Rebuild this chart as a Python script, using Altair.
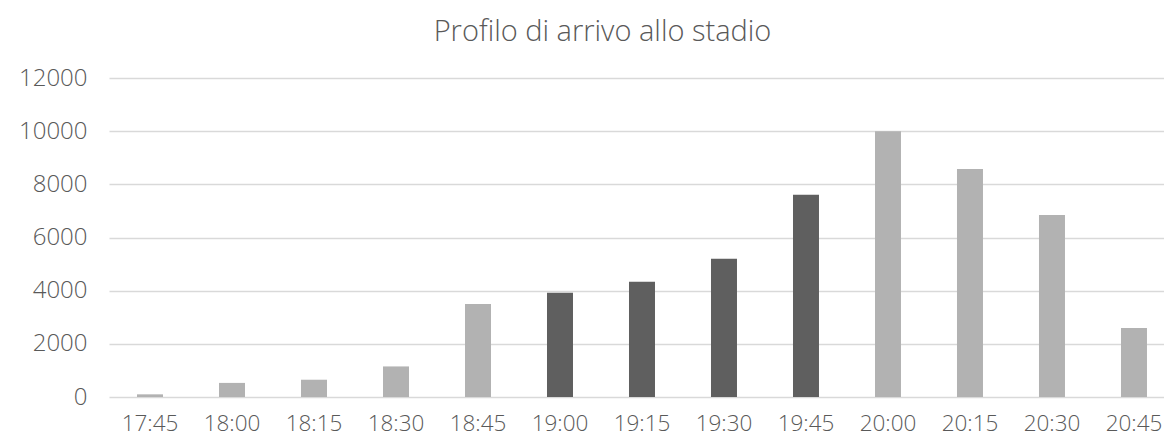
import altair as alt
import pandas as pd

times = ["17:45", "18:00", "18:15", "18:30", "18:45", "19:00", "19:15",
         "19:30", "19:45", "20:00", "20:15", "20:30", "20:45"]
arrivals = [100, 530, 650, 1150, 3500, 3920, 4340, 5200, 7610, 10000, 8580, 6850, 2600]
groups = ["chiaro", "chiaro", "chiaro", "chiaro", "chiaro", "scuro", "scuro",
          "scuro", "scuro", "chiaro", "chiaro", "chiaro", "chiaro"]

df = pd.DataFrame({"orario": times, "arrivi": arrivals, "gruppo": groups})

FONT = "Open Sans"
TXT = "#595959"

chart = alt.Chart(df).mark_bar().encode(
    x=alt.X("orario:N", sort=times, title=None,
            scale=alt.Scale(paddingInner=0.683, paddingOuter=0.2745, align=0.622,
                            round=False),
            axis=alt.Axis(labelAngle=0, labelFont=FONT, labelFontSize=22.5,
                          labelColor=TXT, labelFontWeight=300, ticks=False,
                          domain=False, labelPadding=15)),
    y=alt.Y("arrivi:Q", title=None,
            scale=alt.Scale(domain=[0, 12000]),
            axis=alt.Axis(values=[0, 2000, 4000, 6000, 8000, 10000, 12000],
                          format="d",
                          labelFont=FONT, labelFontSize=24, labelColor=TXT,
                          labelFontWeight=300, ticks=False, domain=False,
                          gridColor="#d9d9d9", gridWidth=1.5, labelPadding=22)),
    color=alt.Color("gruppo:N", legend=None,
                    scale=alt.Scale(domain=["chiaro", "scuro"],
                                    range=["#b2b2b2", "#5f5f5f"])),
).properties(
    width=1055, height=319,
    autosize=alt.AutoSizeParams(type="none"),
    padding={"left": 101, "top": 70, "right": 0, "bottom": 42},
    title=alt.TitleParams("Profilo di arrivo allo stadio", font=FONT,
                          fontSize=29, fontWeight=300, color=TXT,
                          anchor="middle", dx=-34, offset=19),
).configure_view(stroke=None)

chart.save("out.html", embed_options={"renderer": "svg", "actions": False})
